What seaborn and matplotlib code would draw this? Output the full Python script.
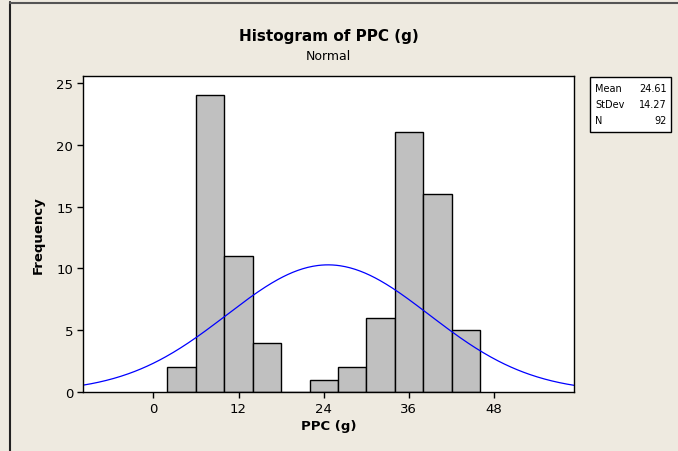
import numpy as np
import pandas as pd
import matplotlib
matplotlib.use("Agg")
import matplotlib.pyplot as plt
import seaborn as sns
from matplotlib.lines import Line2D

# Data
bin_centers = [4, 8, 12, 16, 20, 24, 28, 32, 36, 40, 44]
frequencies = [2, 24, 11, 4, 0, 1, 2, 6, 21, 16, 5]
bin_width = 4
stat_labels = ["Mean", "StDev", "N"]
stat_values = ["24.61", "14.27", "92"]
mean_val = 24.61
sd_val = 14.27
n_val = 92
x_ticks = [0, 12, 24, 36, 48]
y_ticks = [0, 5, 10, 15, 20, 25]

sns.set_theme(style="white")
plt.rcParams['font.family'] = ['DejaVu Sans']
plt.rcParams['text.color'] = 'black'
plt.rcParams['axes.labelcolor'] = 'black'

bg = "#EEEAE0"
fig = plt.figure(figsize=(6.78, 4.52), dpi=100, facecolor=bg)
ax = fig.add_axes([83/678, 1-393/452, (574-83)/678, (393-77)/452])
ax.set_facecolor("white")

df = pd.DataFrame({"x": bin_centers, "w": frequencies})
lo = bin_centers[0] - bin_width/2
hi = bin_centers[-1] + bin_width/2
sns.histplot(data=df, x="x", weights="w", binwidth=bin_width, binrange=(lo, hi),
             color="#C0C0C0", edgecolor="black", linewidth=1.0, alpha=1, ax=ax)

xs = np.linspace(-10, 60, 400)
ys = n_val * bin_width / (sd_val * np.sqrt(2*np.pi)) * np.exp(-0.5*((xs-mean_val)/sd_val)**2)
sns.lineplot(x=xs, y=ys, color="blue", linewidth=0.9, ax=ax)

ax.set_xlim(-9.9, 59.25)
ax.set_ylim(0, 25.57)
ax.set_xticks(x_ticks)
ax.set_yticks(y_ticks)
ax.tick_params(axis="both", which="both", direction="out", length=4, width=1,
               colors="black", labelcolor="black", labelsize=9.5,
               bottom=True, left=True, top=False, right=False, pad=3)
for s in ax.spines.values():
    s.set_color("black")
    s.set_linewidth(1.0)
    s.set_visible(True)
ax.set_xlabel("PPC (g)", fontsize=9.5, fontweight="bold", labelpad=3, color="black")
ax.set_ylabel("Frequency", fontsize=9.5, fontweight="bold", labelpad=8, color="black")

fig.text((83+574)/2/678, 1-37/452, "Histogram of PPC (g)", ha="center", va="center",
         fontsize=11, fontweight="bold", color="black")
fig.text((83+574)/2/678, 1-56/452, "Normal", ha="center", va="center", fontsize=9, color="black")

# stats box
box = plt.Rectangle((590/678, 1-133/452), (671-590)/678, (133-78)/452, transform=fig.transFigure,
                    facecolor="white", edgecolor="black", linewidth=1.0)
fig.patches.append(box)
for i, (lab, val) in enumerate(zip(stat_labels, stat_values)):
    y = 1 - (89 + i*16)/452
    fig.text(595/678, y, lab, ha="left", va="center", fontsize=7, color="black")
    fig.text(667/678, y, val, ha="right", va="center", fontsize=7, color="black")

# window border lines
fig.add_artist(Line2D([9.5/678, 9.5/678], [0, 1-3/452], transform=fig.transFigure, color="#222222", linewidth=1.5))
fig.add_artist(Line2D([9.5/678, 1], [1-3.5/452, 1-3.5/452], transform=fig.transFigure, color="#555555", linewidth=1.5))

fig.savefig("out.png", dpi=100, facecolor=bg)
